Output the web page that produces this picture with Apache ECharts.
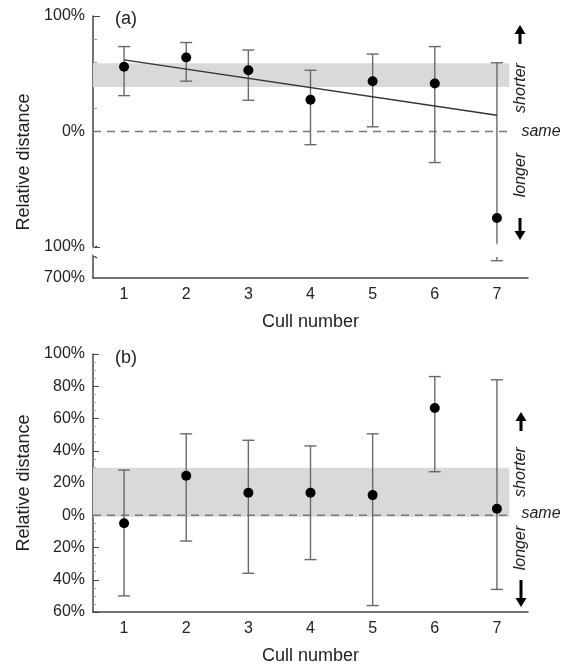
<!DOCTYPE html>
<html>
<head>
<meta charset="utf-8">
<script src="https://cdn.jsdelivr.net/npm/echarts@6/dist/echarts.min.js"></script>
<style>
  html, body { margin: 0; padding: 0; background: #fff; }
  #chart { width: 570px; height: 667px; }
</style>
</head>
<body>
<div id="chart"></div>
<script>
// data
var culls = ['1', '2', '3', '4', '5', '6', '7']

// panel (a)
var meanA = [56, 64, 53, 27.5, 43.5, 41.5, -75]
var lowA = [31, 43.5, 27, -11.5, 4, -27, -685]
var highA = [73.5, 77, 70.5, 53, 67, 73.5, 59.5]
var trendA = [[1, 62], [7, 14]]
var bandA = [38.5, 59]
var breakA = [-680, -100]
var labelsA = [100, 0, -100, -700]

// panel (b)
var meanB = [-5, 24.5, 14, 14, 12.5, 66.5, 4]
var lowB = [-50, -16, -36, -27.5, -56, 27, -46]
var highB = [28, 50.5, 46.5, 43, 50.5, 86, 84]
var bandB = [-1, 29.5]

var bandEnd = 7.2

var font = 'Liberation Sans'
var axisColor = '#444'
var barColor = '#6a6a6a'

function errData(low, high) {
  return low.map(function (v, i) { return [i, v, high[i]] })
}

function errorBar(brk) {
  return function (params, api) {
    var x = api.value(0)
    var lo = api.value(1)
    var hi = api.value(2)
    var w = 6
    var style = { stroke: barColor, lineWidth: 1.4 }
    var top = api.coord([x, hi])
    var bot = api.coord([x, lo])
    var kids = [
      { type: 'line', shape: { x1: top[0] - w, y1: top[1], x2: top[0] + w, y2: top[1] }, style: style },
      { type: 'line', shape: { x1: bot[0] - w, y1: bot[1], x2: bot[0] + w, y2: bot[1] }, style: style }
    ]
    if (brk && lo < brk[1]) {
      // the bar is cut where the axis is broken
      var b1 = api.coord([x, brk[1]])
      var b0 = api.coord([x, brk[0]])
      kids.push({ type: 'line', shape: { x1: top[0], y1: top[1], x2: b1[0], y2: b1[1] - 1 }, style: style })
      kids.push({ type: 'line', shape: { x1: b0[0], y1: b0[1] + 2, x2: bot[0], y2: bot[1] }, style: style })
    } else {
      kids.push({ type: 'line', shape: { x1: top[0], y1: top[1], x2: bot[0], y2: bot[1] }, style: style })
    }
    return { type: 'group', children: kids }
  }
}

function bandItem(params, api) {
  var p0 = api.coord([api.value(0), api.value(3)])
  var p1 = api.coord([api.value(1), api.value(2)])
  return {
    type: 'rect',
    shape: { x: p0[0], y: p0[1], width: p1[0] - p0[0], height: p1[1] - p0[1] },
    style: { fill: '#d9d9d9' }
  }
}

function catAxis(grid, gap) {
  return {
    type: 'category',
    gridIndex: grid,
    data: culls,
    boundaryGap: true,
    name: 'Cull number',
    nameLocation: 'middle',
    nameGap: gap,
    nameTextStyle: { fontFamily: font, fontSize: 18, color: '#222' },
    axisLine: { onZero: false, lineStyle: { color: axisColor, width: 1.5 } },
    axisTick: { inside: true, length: 6, lineStyle: { color: axisColor } },
    axisLabel: { fontFamily: font, fontSize: 16, color: '#222', margin: 9 },
    splitLine: { show: false }
  }
}

function hiddenX(grid) {
  return { type: 'value', gridIndex: grid, min: 0.5, max: 7.5, show: false, splitLine: { show: false } }
}

function arrowGraphic(x, yTip, yTail) {
  var head = yTip < yTail ? 9 : -9
  return [
    { type: 'line', shape: { x1: x, y1: yTip + head * 0.5, x2: x, y2: yTail }, style: { stroke: '#000', lineWidth: 3 } },
    { type: 'polygon', shape: { points: [[x, yTip], [x - 5.5, yTip + head], [x + 5.5, yTip + head]] }, style: { fill: '#000' } }
  ]
}

function sideText(text, x, y, rot) {
  return {
    type: 'text', x: x, y: y, rotation: rot,
    style: { text: text, fontFamily: font, fontStyle: 'italic', fontSize: 16, fill: '#222', align: 'center', verticalAlign: 'middle' }
  }
}

// little curls marking the break on the y axis of panel (a)
function breakMark(x, y, dir) {
  return {
    type: 'bezierCurve',
    shape: { x1: x, y1: y, x2: x + 4, y2: y - 3 * dir, cpx1: x + 1, cpy1: y - 1 * dir },
    style: { stroke: axisColor, lineWidth: 1.5, fill: null }
  }
}

var chart = echarts.init(document.getElementById('chart'))

var option = {
  animation: false,
  grid: [
    { left: 93, right: 42, top: 16, height: 262 },
    { left: 93, right: 42, top: 354, height: 258 }
  ],
  xAxis: [catAxis(0, 35), catAxis(1, 35), hiddenX(0), hiddenX(1)],
  yAxis: [
    {
      type: 'value', gridIndex: 0, min: -700, max: 100, interval: 100,
      breaks: [{ start: breakA[0], end: breakA[1], gap: 7 }],
      breakArea: { show: true, itemStyle: { color: '#fff', borderColor: 'transparent', borderWidth: 0, opacity: 1 }, expandOnClick: false },
      breakLabelLayout: { moveOverlap: false },
      name: 'Relative distance', nameLocation: 'middle', nameGap: 58,
      nameTextStyle: { fontFamily: font, fontSize: 18, color: '#222', padding: [0, 30, 0, 0] },
      axisLine: { show: true, lineStyle: { color: axisColor, width: 1.5 } },
      axisTick: { inside: true, length: 7, lineStyle: { color: axisColor } },
      minorTick: { show: true, splitNumber: 5, length: 4, lineStyle: { color: '#999' } },
      axisLabel: {
        fontFamily: font, fontSize: 16, color: '#222', margin: 8,
        customValues: labelsA, showMinLabel: true, hideOverlap: false,
        formatter: function (v) { return Math.abs(v) + '%' }
      },
      splitLine: { show: false }
    },
    {
      type: 'value', gridIndex: 1, min: -60, max: 100, interval: 20,
      name: 'Relative distance', nameLocation: 'middle', nameGap: 58,
      nameTextStyle: { fontFamily: font, fontSize: 18, color: '#222' },
      axisLine: { show: true, lineStyle: { color: axisColor, width: 1.5 } },
      axisTick: { inside: true, length: 6, lineStyle: { color: axisColor } },
      minorTick: { show: true, splitNumber: 4, length: 3, lineStyle: { color: '#aaa' } },
      axisLabel: {
        fontFamily: font, fontSize: 16, color: '#222', margin: 8,
        formatter: function (v) { return Math.abs(v) + '%' }
      },
      splitLine: { show: false }
    }
  ],
  series: [
    // panel (a)
    { type: 'custom', xAxisIndex: 2, yAxisIndex: 0, renderItem: bandItem, data: [[0.5, bandEnd, bandA[0], bandA[1]]], z: 1, silent: true },
    { type: 'line', xAxisIndex: 2, yAxisIndex: 0, data: [[0.5, 0], [bandEnd, 0]], symbol: 'none', lineStyle: { color: '#777', width: 1.5, type: [8, 6] }, z: 2 },
    { type: 'custom', xAxisIndex: 0, yAxisIndex: 0, renderItem: errorBar(breakA), data: errData(lowA, highA), z: 3 },
    { type: 'line', xAxisIndex: 2, yAxisIndex: 0, data: trendA, symbol: 'none', lineStyle: { color: '#333', width: 1.3 }, z: 4 },
    { type: 'scatter', xAxisIndex: 0, yAxisIndex: 0, data: meanA, symbolSize: 10, itemStyle: { color: '#000', opacity: 1 }, z: 5 },
    // panel (b)
    { type: 'custom', xAxisIndex: 3, yAxisIndex: 1, renderItem: bandItem, data: [[0.5, bandEnd, bandB[0], bandB[1]]], z: 1, silent: true },
    { type: 'line', xAxisIndex: 3, yAxisIndex: 1, data: [[0.5, 0], [bandEnd, 0]], symbol: 'none', lineStyle: { color: '#777', width: 1.5, type: [8, 6] }, z: 2 },
    { type: 'custom', xAxisIndex: 1, yAxisIndex: 1, renderItem: errorBar(null), data: errData(lowB, highB), z: 3 },
    { type: 'scatter', xAxisIndex: 1, yAxisIndex: 1, data: meanB, symbolSize: 10, itemStyle: { color: '#000', opacity: 1 }, z: 5 }
  ],
  graphic: [
    { type: 'text', x: 115, y: 10, style: { text: '(a)', fontFamily: font, fontSize: 18, fill: '#222' } },
    { type: 'text', x: 115, y: 349, style: { text: '(b)', fontFamily: font, fontSize: 18, fill: '#222' } },
    sideText('same', 541, 132, 0),
    sideText('shorter', 521, 88, Math.PI / 2),
    sideText('longer', 521, 175, Math.PI / 2),
    sideText('same', 541, 514, 0),
    sideText('shorter', 521, 472, Math.PI / 2),
    sideText('longer', 521, 548, Math.PI / 2),
    breakMark(93, 249, 1),
    breakMark(93, 255, -1)
  ].concat(arrowGraphic(520, 25, 44), arrowGraphic(520, 240, 218), arrowGraphic(521, 412, 431), arrowGraphic(521, 607, 580))
}

chart.setOption(option)
</script>
</body>
</html>
